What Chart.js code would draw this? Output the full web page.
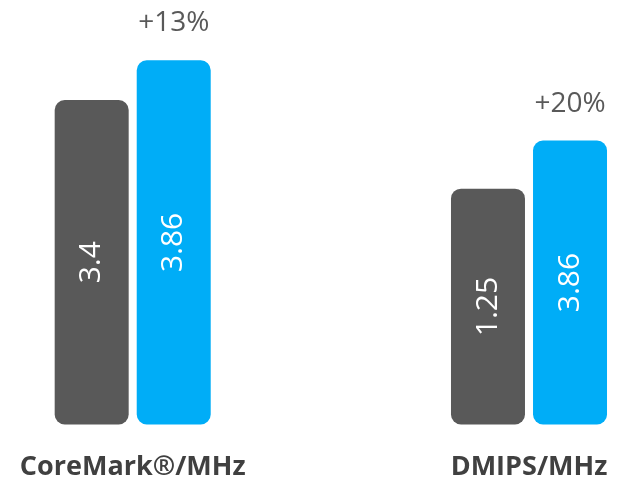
<!DOCTYPE html>
<html>
<head>
<meta charset="utf-8">
<script src="https://cdn.jsdelivr.net/npm/chart.js@4"></script>
<style>
  html, body { margin: 0; padding: 0; background: #ffffff; }
  canvas { display: block; }
</style>
</head>
<body>
<canvas id="c" width="618" height="485"></canvas>
<script>
// Categories (x axis)
const categories = ['CoreMark®/MHz', 'DMIPS/MHz'];
// Bar heights as drawn in the picture (common relative scale)
const baselineHeights = [3.44, 2.50];
const newHeights = [3.86, 3.01];
// Texts written inside the bars
const baselineLabels = ['3.4', '1.25'];
const newLabels = ['3.86', '3.86'];
// Gain texts above the blue bars
const gainLabels = ['+13%', '+20%'];

const GRAY = '#595959';
const BLUE = '#00ADF7';

const barLabelPlugin = {
  id: 'barLabels',
  afterDatasetsDraw(chart) {
    const ctx = chart.ctx;
    chart.data.datasets.forEach((ds, di) => {
      const meta = chart.getDatasetMeta(di);
      meta.data.forEach((el, i) => {
        const txt = ds.innerLabels[i];
        ctx.save();
        ctx.translate(el.x, (el.y + el.base) / 2);
        ctx.rotate(-Math.PI / 2);
        ctx.fillStyle = '#ffffff';
        ctx.font = '30px "Open Sans"';
        ctx.textAlign = 'center';
        ctx.textBaseline = 'middle';
        ctx.fillText(txt, 0, 0);
        ctx.restore();
        if (ds.topLabels) {
          ctx.save();
          ctx.fillStyle = '#595959';
          ctx.font = '28px "Open Sans"';
          ctx.textAlign = 'center';
          ctx.textBaseline = 'middle';
          ctx.fillText(ds.topLabels[i], el.x, el.y - 37);
          ctx.restore();
        }
      });
    });
  }
};

new Chart(document.getElementById('c'), {
  type: 'bar',
  data: {
    labels: categories,
    datasets: [
      {
        data: baselineHeights,
        innerLabels: baselineLabels,
        backgroundColor: GRAY,
        borderRadius: 10,
        borderSkipped: false,
        categoryPercentage: 0.414,
        barPercentage: 0.902,
        clip: false
      },
      {
        data: newHeights,
        innerLabels: newLabels,
        topLabels: gainLabels,
        backgroundColor: BLUE,
        borderRadius: 10,
        borderSkipped: false,
        categoryPercentage: 0.414,
        barPercentage: 0.902,
        clip: false
      }
    ]
  },
  options: {
    responsive: false,
    animation: false,
    devicePixelRatio: 1,
    layout: { padding: { left: 132.7, right: 89, top: 0, bottom: 0 } },
    plugins: { legend: { display: false }, tooltip: { enabled: false } },
    scales: {
      x: {
        offset: false,
        grid: { display: false, drawTicks: false },
        border: { display: false },
        ticks: {
          padding: 27,
          color: '#404040',
          maxRotation: 0,
          autoSkip: false,
          font: { family: '"Open Sans"', size: 27, weight: 'bold', lineHeight: 1.2 }
        },
        afterFit(scale) {
          scale.height = 60.5;
          scale.paddingLeft = 0;
          scale.paddingRight = 0;
        }
      },
      y: {
        display: false,
        min: 0,
        max: 4.5
      }
    }
  },
  plugins: [barLabelPlugin]
});
</script>
</body>
</html>
